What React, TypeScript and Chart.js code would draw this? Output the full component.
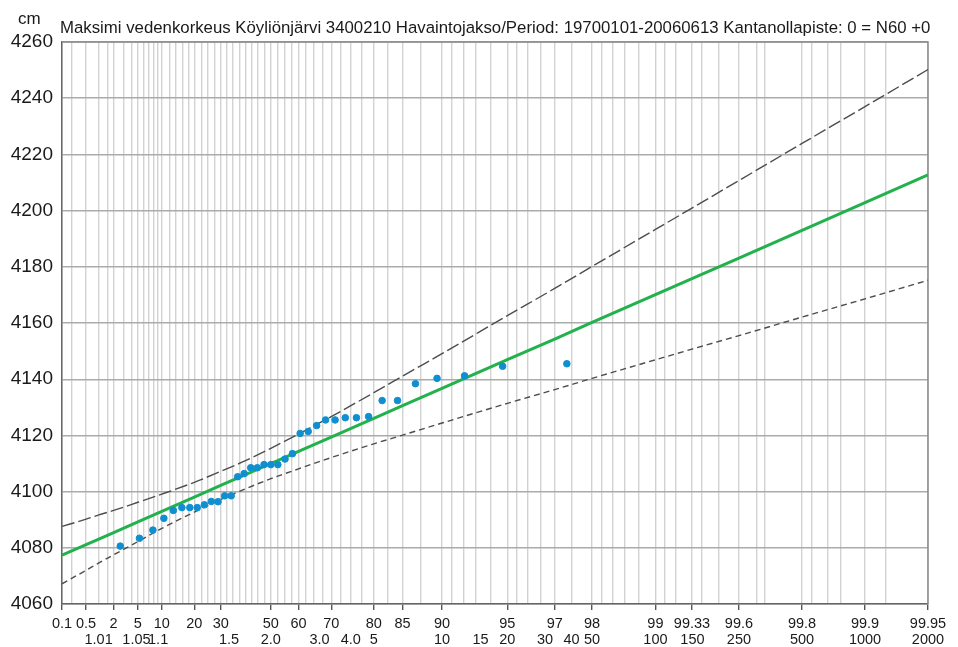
import { useEffect, useRef } from 'react';
import { Chart, registerables } from 'chart.js';

Chart.register(...registerables);

const titleText =
  'Maksimi vedenkorkeus Köyliönjärvi 3400210 Havaintojakso/Period: 19700101-20060613 Kantanollapiste: 0 = N60 +0';
const unitLabel = 'cm';

// Non-exceedance probability (%) tick labels (top row)
const probTicks = [0.1, 0.5, 2, 5, 10, 20, 30, 50, 60, 70, 80, 85, 90, 95, 97, 98, 99, 99.33, 99.6, 99.8, 99.9, 99.95];
const probLabels = ['0.1', '0.5', '2', '5', '10', '20', '30', '50', '60', '70', '80', '85', '90', '95', '97', '98', '99', '99.33', '99.6', '99.8', '99.9', '99.95'];

// Return period tick labels (bottom row)
const returnPeriods = [1.01, 1.05, 1.1, 1.5, 2, 3, 4, 5, 10, 15, 20, 30, 40, 50, 100, 150, 250, 500, 1000, 2000];
const returnLabels = ['1.01', '1.05', '1.1', '1.5', '2.0', '3.0', '4.0', '5', '10', '15', '20', '30', '40', '50', '100', '150', '250', '500', '1000', '2000'];

// Vertical grid lines (probability %)
const gridProbs = [
  0.1, 0.2, 0.5, 1, 1.5, 2, 3, 4, 5, 6, 7, 8, 9, 10, 12, 14, 16, 18, 20, 22.5, 25, 27.5, 30, 32.5, 35,
  37.5, 40, 42.5, 45, 47.5, 50, 52.5, 55, 57.5, 60, 62.5, 65, 67.5, 70, 72.5, 75, 77.5, 80, 82.5, 85,
  87.5, 90, 91, 92, 93, 94, 95, 95.5, 96, 96.5, 97, 97.5, 98, 98.2, 98.4, 98.6, 98.8, 99, 99.1, 99.2,
  99.33, 99.4, 99.5, 99.6, 99.67, 99.7, 99.8, 99.82, 99.85, 99.87, 99.9, 99.92, 99.95,
];

// Observed annual maxima (sorted) and their plotting probabilities (%)
const plotProbs = [
  2.63, 5.26, 7.89, 10.53, 13.16, 15.79, 18.42, 21.05, 23.68, 26.32, 28.95, 31.58, 34.21, 36.84, 39.47,
  42.11, 44.74, 47.37, 50.0, 52.63, 55.26, 57.89, 60.53, 63.16, 65.79, 68.42, 71.05, 73.68, 76.32, 78.95,
  81.58, 84.21, 86.84, 89.47, 92.11, 94.74, 97.37,
];
const observed = [
  4080.6, 4083.4, 4086.3, 4090.5, 4093.3, 4094.3, 4094.3, 4094.3, 4095.3, 4096.5, 4096.4, 4098.5, 4098.5,
  4105.3, 4106.4, 4108.5, 4108.5, 4109.6, 4109.6, 4109.6, 4111.6, 4113.5, 4120.7, 4121.4, 4123.5, 4125.5,
  4125.5, 4126.3, 4126.3, 4126.7, 4132.4, 4132.4, 4138.4, 4140.3, 4141.2, 4144.6, 4145.5,
];

// Fitted distribution and confidence limits
const curveProbs = [0.1, 0.5, 1, 2, 5, 10, 20, 30, 40, 50, 60, 70, 80, 85, 90, 95, 97, 98, 99, 99.33, 99.6, 99.8, 99.9, 99.95];
const fitValues = [
  4077.4, 4081.1, 4083.1, 4085.4, 4089.2, 4093.0, 4098.0, 4102.2, 4106.0, 4110.0, 4114.3, 4119.4, 4126.1,
  4130.6, 4136.7, 4147.0, 4154.3, 4160.2, 4170.1, 4175.8, 4183.1, 4193.0, 4202.8, 4212.7,
];
const upperValues = [
  4087.6, 4090.2, 4091.7, 4093.3, 4096.2, 4099.1, 4103.3, 4107.2, 4111.0, 4115.4, 4120.5, 4126.7, 4135.2,
  4141.1, 4149.1, 4162.6, 4172.3, 4180.1, 4193.3, 4200.9, 4210.7, 4223.9, 4237.0, 4250.2,
];
const lowerValues = [
  4067.2, 4072.0, 4074.6, 4077.5, 4082.2, 4086.9, 4092.7, 4097.2, 4101.0, 4104.6, 4108.1, 4112.1, 4117.0,
  4120.1, 4124.4, 4131.4, 4136.3, 4140.3, 4146.9, 4150.7, 4155.5, 4162.1, 4168.6, 4175.2,
];

const yMin = 4060;
const yMax = 4260;
const yStep = 20;

const gumbel = (pct: number) => -Math.log(-Math.log(pct / 100));
const rpToProb = (t: number) => (1 - 1 / t) * 100;

const FONT = '"Liberation Sans", Arial, sans-serif';

export default function App() {
  const ref = useRef<HTMLCanvasElement | null>(null);

  useEffect(() => {
    const canvas = ref.current;
    if (!canvas) return;
    const xMin = gumbel(probTicks[0]);
    const xMax = gumbel(probTicks[probTicks.length - 1]);
    const labelled = new Set(probTicks.map((p) => p.toFixed(3)));

    const decor = {
      id: 'decor',
      beforeDatasetsDraw(chart: any) {
        const { ctx, chartArea: a } = chart;
        ctx.save();
        ctx.strokeStyle = '#8a8a8a';
        ctx.lineWidth = 1.5;
        ctx.beginPath();
        ctx.moveTo(a.left, a.top);
        ctx.lineTo(a.right, a.top);
        ctx.lineTo(a.right, a.bottom);
        ctx.stroke();
        ctx.restore();
      },
      afterDraw(chart: any) {
        const { ctx } = chart;
        ctx.save();
        ctx.fillStyle = '#1a1a1a';
        ctx.textAlign = 'left';
        ctx.textBaseline = 'alphabetic';
        ctx.font = `16.8px ${FONT}`;
        ctx.fillText(titleText, 60, 33);
        ctx.font = `17px ${FONT}`;
        ctx.fillText(unitLabel, 18, 24);
        ctx.restore();
      },
    };

    const chart = new Chart(canvas, {
      type: 'scatter',
      data: {
        datasets: [
          {
            label: 'Havainnot',
            data: plotProbs.map((p, i) => ({ x: gumbel(p), y: observed[i] })),
            backgroundColor: '#0f8fcf',
            borderColor: '#0f8fcf',
            pointRadius: 3.3,
            showLine: false,
          },
          {
            label: 'Sovitus',
            data: curveProbs.map((p, i) => ({ x: gumbel(p), y: fitValues[i] })),
            borderColor: '#22b14c',
            borderWidth: 3,
            pointRadius: 0,
            showLine: true,
          },
          {
            label: 'Yläraja',
            data: curveProbs.map((p, i) => ({ x: gumbel(p), y: upperValues[i] })),
            borderColor: '#4d4d4d',
            borderWidth: 1.4,
            borderDash: [13, 4],
            pointRadius: 0,
            showLine: true,
            cubicInterpolationMode: 'monotone',
          },
          {
            label: 'Alaraja',
            data: curveProbs.map((p, i) => ({ x: gumbel(p), y: lowerValues[i] })),
            borderColor: '#4d4d4d',
            borderWidth: 1.4,
            borderDash: [6, 4],
            pointRadius: 0,
            showLine: true,
            cubicInterpolationMode: 'monotone',
          },
        ],
      },
      options: {
        animation: false,
        responsive: false,
        events: [],
        layout: { padding: { top: 42, right: 30, left: 0, bottom: 0 } },
        plugins: { legend: { display: false }, tooltip: { enabled: false }, title: { display: false } },
        scales: {
          x: {
            type: 'linear',
            position: 'bottom',
            min: xMin,
            max: xMax,
            afterBuildTicks: (scale: any) => {
              scale.ticks = gridProbs.map((p) => ({ value: gumbel(p) }));
            },
            afterFit: (scale: any) => {
              scale.height = 24;
            },
            grid: {
              color: '#d2d2d2',
              lineWidth: 1.4,
              tickLength: 6,
              tickWidth: 1.4,
              tickColor: (ctx: any) =>
                labelled.has(gridProbs[ctx.index]?.toFixed(3)) ? '#555555' : 'rgba(0,0,0,0)',
            },
            border: { color: '#666666', width: 1.5 },
            ticks: {
              autoSkip: false,
              maxRotation: 0,
              minRotation: 0,
              padding: 5,
              color: '#1a1a1a',
              font: { family: FONT, size: 14.5 },
              callback: (_v: any, i: number) => {
                const p = gridProbs[i];
                const k = probTicks.findIndex((q) => q.toFixed(3) === p.toFixed(3));
                return k >= 0 ? probLabels[k] : '';
              },
            },
          },
          x2: {
            type: 'linear',
            position: 'bottom',
            min: xMin,
            max: xMax,
            afterBuildTicks: (scale: any) => {
              scale.ticks = returnPeriods.map((t) => ({ value: gumbel(rpToProb(t)) }));
            },
            afterFit: (scale: any) => {
              scale.height = 19;
            },
            grid: { display: false, drawOnChartArea: false, drawTicks: false },
            border: { display: false },
            ticks: {
              autoSkip: false,
              maxRotation: 0,
              minRotation: 0,
              padding: 3,
              color: '#1a1a1a',
              font: { family: FONT, size: 14.5 },
              callback: (_v: any, i: number) => returnLabels[i],
            },
          },
          y: {
            type: 'linear',
            min: yMin,
            max: yMax,
            afterFit: (scale: any) => {
              scale.width = 62;
            },
            ticks: {
              stepSize: yStep,
              padding: 9,
              color: '#1a1a1a',
              font: { family: FONT, size: 19 },
              callback: (v: any) => String(v),
            },
            grid: { color: '#ababab', lineWidth: 1.4, drawTicks: false },
            border: { color: '#666666', width: 1.5 },
          },
        },
      } as any,
      plugins: [decor],
    });
    return () => chart.destroy();
  }, []);

  return (
    <div style={{ position: 'fixed', left: 0, top: 0, width: 958, height: 647, background: '#ffffff' }}>
      <canvas ref={ref} width={958} height={647} style={{ display: 'block', width: 958, height: 647 }} />
    </div>
  );
}
